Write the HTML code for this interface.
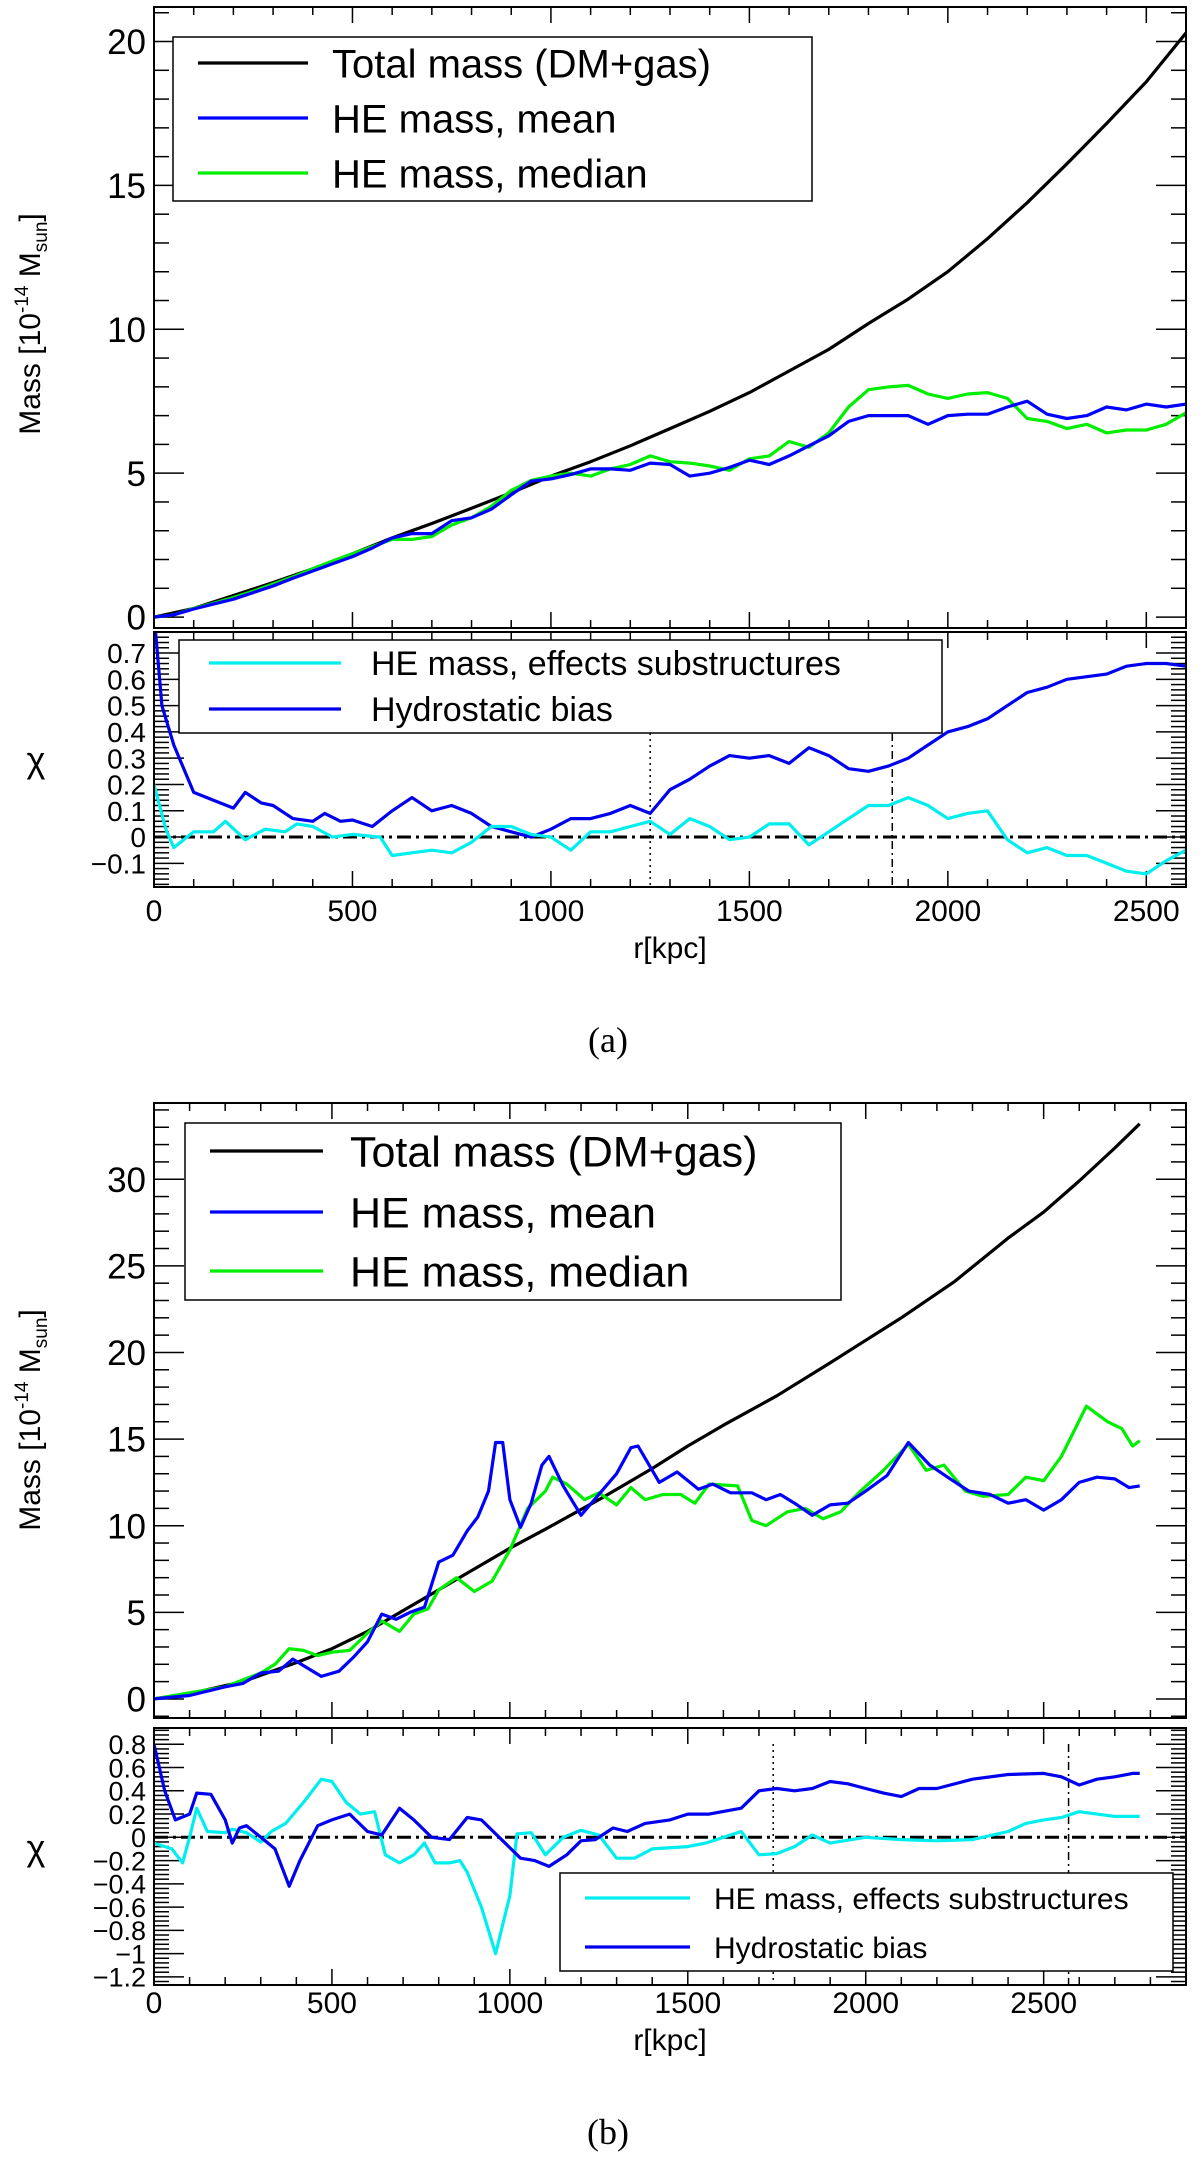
<!DOCTYPE html>
<html><head><meta charset="utf-8">
<style>
html,body{margin:0;padding:0;background:#fff;}
svg{display:block;font-family:"Liberation Sans",Arial,sans-serif;}
</style></head>
<body>
<svg id="fig" width="1200" height="2162" viewBox="0 0 1200 2162" xmlns="http://www.w3.org/2000/svg"></svg>
<script>
// ---- Panel (a) data ----
const aTotR = [0,100,200,300,400,500,600,700,800,900,1000,1100,1200,1300,1400,1500,1600,1700,1800,1900,2000,2100,2200,2300,2400,2500,2600];
const aTotM = [0,0.3,0.75,1.2,1.68,2.2,2.75,3.25,3.78,4.32,4.9,5.4,5.95,6.55,7.15,7.8,8.55,9.3,10.2,11.05,12.0,13.15,14.4,15.75,17.15,18.6,20.3];
const aMeanR = [0,50,100,150,200,250,300,350,400,450,500,550,600,650,700,750,800,850,900,950,1000,1050,1100,1150,1200,1250,1300,1350,1400,1450,1500,1550,1600,1650,1700,1750,1800,1850,1900,1950,2000,2050,2100,2150,2200,2250,2300,2350,2400,2450,2500,2550,2600];
const aMeanM = [0,0.08,0.28,0.45,0.62,0.85,1.08,1.35,1.6,1.85,2.1,2.4,2.75,2.9,2.9,3.35,3.45,3.75,4.25,4.72,4.8,4.95,5.15,5.15,5.1,5.35,5.3,4.9,5.0,5.2,5.45,5.3,5.6,5.95,6.3,6.8,7.0,7.0,7.0,6.7,7.0,7.05,7.05,7.3,7.5,7.05,6.9,7.0,7.3,7.2,7.4,7.3,7.4];
const aMedR = aMeanR;
const aMedM = [0,0.08,0.3,0.48,0.68,0.9,1.15,1.4,1.68,1.95,2.2,2.45,2.7,2.7,2.8,3.2,3.45,3.85,4.4,4.75,4.9,5.0,4.9,5.15,5.3,5.6,5.4,5.35,5.25,5.1,5.5,5.6,6.1,5.9,6.4,7.3,7.9,8.0,8.05,7.75,7.6,7.75,7.8,7.6,6.9,6.8,6.55,6.7,6.4,6.5,6.5,6.7,7.1];
const aBiasR = [0,20,50,100,150,200,230,270,300,350,400,430,470,500,550,600,650,700,750,800,850,900,950,1000,1050,1100,1150,1200,1250,1300,1350,1400,1450,1500,1550,1600,1650,1700,1750,1800,1850,1900,1950,2000,2050,2100,2150,2200,2250,2300,2350,2400,2450,2500,2550,2600];
const aBiasV = [0.85,0.5,0.35,0.17,0.14,0.11,0.17,0.13,0.12,0.07,0.06,0.09,0.06,0.065,0.04,0.1,0.15,0.1,0.12,0.09,0.04,0.02,0.0,0.03,0.07,0.07,0.09,0.12,0.09,0.18,0.22,0.27,0.31,0.3,0.31,0.28,0.34,0.31,0.26,0.25,0.27,0.3,0.35,0.4,0.42,0.45,0.5,0.55,0.57,0.6,0.61,0.62,0.65,0.66,0.66,0.65];
const aSubR = [0,30,50,100,150,180,230,280,330,360,400,450,500,570,600,650,700,750,800,850,900,950,1000,1050,1100,1150,1200,1250,1300,1350,1400,1450,1500,1550,1600,1650,1700,1750,1800,1850,1900,1950,2000,2050,2100,2150,2200,2250,2300,2350,2400,2450,2500,2550,2600];
const aSubV = [0.2,0.03,-0.04,0.02,0.02,0.06,-0.01,0.03,0.02,0.05,0.04,0.0,0.01,0.0,-0.07,-0.06,-0.05,-0.06,-0.02,0.04,0.04,0.01,0.0,-0.05,0.02,0.02,0.04,0.06,0.01,0.07,0.04,-0.01,0.0,0.05,0.05,-0.03,0.02,0.07,0.12,0.12,0.15,0.12,0.07,0.09,0.1,-0.01,-0.06,-0.04,-0.07,-0.07,-0.1,-0.13,-0.14,-0.09,-0.05];
const aVlines = [1250,1860];
// ---- Panel (b) data ----
const bTotR = [0,100,250,400,500,600,750,900,1000,1100,1250,1400,1500,1600,1750,1900,2000,2100,2250,2400,2500,2600,2700,2770];
const bTotM = [0,0.3,1.0,2.1,2.9,3.9,5.7,7.5,8.7,9.8,11.5,13.3,14.6,15.8,17.5,19.4,20.7,22.0,24.1,26.6,28.1,29.9,31.8,33.2];
const bMeanR = [0,100,200,250,300,350,390,430,470,520,560,600,640,680,720,760,800,840,880,910,940,960,980,1000,1030,1060,1090,1110,1150,1200,1250,1300,1340,1360,1420,1470,1530,1570,1620,1680,1720,1760,1800,1850,1900,1950,2000,2060,2120,2180,2230,2290,2350,2400,2450,2500,2550,2600,2650,2700,2740,2770];
const bMeanM = [0,0.2,0.7,0.9,1.5,1.6,2.3,1.8,1.3,1.6,2.4,3.3,4.9,4.6,5.0,5.3,7.9,8.3,9.7,10.5,12.0,14.8,14.8,11.5,9.9,11.3,13.5,14.0,12.3,10.6,11.8,13.0,14.5,14.6,12.5,13.1,12.1,12.4,11.9,11.9,11.5,11.8,11.3,10.6,11.2,11.3,12.0,12.9,14.8,13.5,12.8,12.0,11.8,11.3,11.5,10.9,11.5,12.5,12.8,12.7,12.2,12.3];
const bMedR = [0,200,300,340,380,420,460,500,550,600,640,690,730,770,800,850,900,950,1000,1050,1100,1120,1160,1210,1250,1300,1340,1380,1430,1480,1520,1560,1640,1680,1720,1780,1830,1880,1930,1980,2050,2120,2170,2220,2280,2330,2400,2450,2500,2550,2620,2680,2720,2750,2770];
const bMedM = [0,0.7,1.5,2.0,2.9,2.8,2.5,2.7,2.8,3.8,4.5,3.9,4.9,5.2,6.3,7.0,6.2,6.8,8.6,11.0,12.0,12.8,12.4,11.5,11.9,11.2,12.2,11.5,11.8,11.8,11.3,12.4,12.3,10.3,10.0,10.8,11.0,10.4,10.8,11.9,13.2,14.7,13.2,13.5,12.0,11.7,11.8,12.8,12.6,14.0,16.9,16.0,15.6,14.6,14.9];
const bBiasR = [0,30,60,100,120,160,200,220,240,260,300,340,380,410,460,500,550,600,640,690,730,780,830,880,920,970,1030,1070,1110,1160,1200,1240,1290,1330,1380,1450,1500,1560,1650,1700,1750,1800,1850,1900,1950,2000,2050,2100,2150,2200,2300,2400,2500,2550,2600,2650,2700,2750,2770];
const bBiasV = [0.8,0.4,0.15,0.2,0.38,0.37,0.15,-0.05,0.08,0.1,0.0,-0.1,-0.42,-0.2,0.1,0.15,0.2,0.05,0.02,0.25,0.15,0.0,-0.02,0.17,0.15,0.0,-0.18,-0.2,-0.25,-0.15,-0.03,-0.02,0.08,0.05,0.12,0.15,0.2,0.2,0.25,0.4,0.42,0.4,0.42,0.48,0.46,0.42,0.38,0.35,0.42,0.42,0.5,0.54,0.55,0.52,0.45,0.5,0.52,0.55,0.55];
const bSubR = [0,50,80,100,120,150,200,220,260,300,330,370,420,470,500,540,580,620,650,690,730,760,790,830,860,880,920,960,1000,1020,1060,1100,1150,1200,1250,1300,1350,1400,1500,1550,1600,1650,1700,1750,1800,1850,1900,2000,2100,2200,2300,2400,2450,2500,2550,2600,2650,2700,2770];
const bSubV = [-0.05,-0.1,-0.22,0.0,0.25,0.05,0.04,0.07,0.04,-0.04,0.05,0.12,0.3,0.5,0.48,0.3,0.2,0.22,-0.15,-0.22,-0.15,-0.05,-0.22,-0.22,-0.2,-0.3,-0.6,-1.0,-0.5,0.03,0.04,-0.15,0.0,0.06,0.02,-0.18,-0.18,-0.1,-0.08,-0.05,0.0,0.05,-0.15,-0.14,-0.08,0.02,-0.05,0.0,-0.02,-0.03,-0.02,0.05,0.12,0.15,0.17,0.22,0.2,0.18,0.18];
const bVlines = [1740,2570];

const NS = "http://www.w3.org/2000/svg";
const svg = document.getElementById('fig');
function mk(tag, attrs, parent){ const e=document.createElementNS(NS,tag); for(const k in attrs) e.setAttribute(k,attrs[k]); (parent||svg).appendChild(e); return e; }

const L=154, R=1186;
function pad(cfg){
  const g = mk('g',{});
  
  
  const xs = v => L + (v - 0)/(cfg.xmax) * (R-L);
  const ys = v => cfg.top + (cfg.ymax - v)/(cfg.ymax - cfg.ymin) * (cfg.bot - cfg.top);
  const clip = mk('clipPath',{id:cfg.name+'-clip'},g);
  mk('rect',{x:L,y:cfg.top,width:R-L,height:cfg.bot-cfg.top},clip);
  const ch = cfg.bot-cfg.top;
  const tg = mk('g',{stroke:'#000','stroke-width':1.5},g);
  for(let v=0; v<=cfg.xmax+1e-6; v+=100){
    const x=xs(v), len = (v%500===0)? 16 : 8;
    mk('line',{x1:x,x2:x,y1:cfg.bot,y2:cfg.bot-len*cfg.tscale},tg);
    mk('line',{x1:x,x2:x,y1:cfg.top,y2:cfg.top+len*cfg.tscale},tg);
  }
  const nMin = Math.round((cfg.ymax - cfg.ymin)/cfg.yminor)+2;
  const start = Math.ceil(cfg.ymin/cfg.yminor)*cfg.yminor;
  for(let i=0;i<nMin;i++){
    const v = start + i*cfg.yminor; if(v>cfg.ymax+1e-9) break;
    const isMaj = Math.abs(v/cfg.ymajor - Math.round(v/cfg.ymajor))<1e-6;
    const len = isMaj?30:15;
    const y=ys(v);
    mk('line',{x1:L,x2:L+len,y1:y,y2:y},tg);
    mk('line',{x1:R,x2:R-len,y1:y,y2:y},tg);
  }
  cfg.ylabels.forEach(v=>{
    const t=mk('text',{x:L-8,y:ys(v)+cfg.yfs*0.36,'text-anchor':'end','font-size':cfg.yfs},g);
    t.textContent = (v<0?'\u2212':'')+cfg.yfmt(Math.abs(v));
    
    
  });
  if(cfg.zero){
    const z=mk('line',{x1:L,x2:R,y1:ys(0),y2:ys(0),stroke:'#000','stroke-width':3,'stroke-dasharray':'14 5 3 5'},g);
    
    
  }
  (cfg.vlines||[]).forEach((v,i)=>{
    const l=mk('line',{x1:xs(v),x2:xs(v),y1:cfg.vtop,y2:cfg.bot,stroke:'#000','stroke-width':1.5,'stroke-dasharray': i===0?'2 4':'8 4 2 4'},g);
    
    
  });
  cfg.series.forEach(s=>{
    const d = s.r.map((r,i)=>(i?'L':'M')+xs(r).toFixed(1)+','+ys(s.v[i]).toFixed(1)).join(' ');
    const p=mk('path',{d:d,fill:'none',stroke:s.color,'stroke-width':3.2,'stroke-linejoin':'round','clip-path':'url(#'+cfg.name+'-clip)'},g);
    
    
  });
  const fr=mk('rect',{x:L,y:cfg.top,width:R-L,height:ch,fill:'none',stroke:'#000','stroke-width':2},g);
  
  
  if(cfg.xlabels){
    for(let v=0; v<=cfg.xmax; v+=500){
      const t=mk('text',{x:xs(v),y:cfg.xly,'text-anchor':'middle','font-size':30},g);
      t.textContent=String(v);
      
      
    }
  }
  if(cfg.legend){
    const lg=cfg.legend;
    const lgG=mk('g',{},g);
    
    
    mk('rect',{x:lg.x,y:lg.y,width:lg.w,height:lg.h,fill:'#fff',stroke:'#000','stroke-width':1.5},lgG);
    lg.items.forEach(it=>{
      const e=mk('g',{},lgG);
      
      
      mk('line',{x1:lg.lx1,x2:lg.lx2,y1:it.y,y2:it.y,stroke:it.color,'stroke-width':3.2},e);
      const t=mk('text',{x:lg.tx,y:it.y+lg.fs*0.36,'font-size':lg.fs},e);
      t.textContent=it.label;
    });
  }
}

function title(x,y,label,fs,name){
  const t=mk('text',{x:x,y:y,'text-anchor':'middle','font-size':fs});
  t.textContent=label;   return t;
}
function massTitle(cy,name){
  const t=mk('text',{transform:'translate(40,'+cy+') rotate(-90)','text-anchor':'middle','font-size':30});
  
  
  t.innerHTML='Mass [10<tspan dy="-12" font-size="19">-14</tspan><tspan dy="12"> M</tspan><tspan dy="7" font-size="19">sun</tspan><tspan dy="-7">]</tspan>';
}

pad({name:'mass-panel-a',top:7,bot:628,xmax:2600,ymin:-0.38,ymax:21.2,ymajor:5,yminor:1,tscale:1,
  ylabels:[0,5,10,15,20],yfs:35,yfmt:v=>String(v),
  series:[{name:'total-mass-a',r:aTotR,v:aTotM,color:'#000'},{name:'he-median-a',r:aMedR,v:aMedM,color:'#00ee00'},{name:'he-mean-a',r:aMeanR,v:aMeanM,color:'#0000ff'}],
  legend:{x:173,y:37,w:639,h:164,lx1:198,lx2:308,tx:332,fs:40,items:[{y:63,color:'#000',label:'Total mass (DM+gas)'},{y:118,color:'#0000ff',label:'HE mass, mean'},{y:173,color:'#00ee00',label:'HE mass, median'}]}
});
pad({name:'chi-panel-a',top:632,bot:887,xmax:2600,ymin:-0.19,ymax:0.78,ymajor:0.1,yminor:0.02,tscale:1,
  ylabels:[-0.1,0,0.1,0.2,0.3,0.4,0.5,0.6,0.7],yfs:28,yfmt:v=>v===0?'0':v.toFixed(1),zero:true,vlines:aVlines,vtop:733,
  series:[{name:'hydrostatic-bias-a',r:aBiasR,v:aBiasV,color:'#0000ee'},{name:'substructure-effect-a',r:aSubR,v:aSubV,color:'#00eeee'}],
  xlabels:true,xly:921,
  legend:{x:179,y:640,w:763,h:93,lx1:209,lx2:341,tx:371,fs:34,items:[{y:663,color:'#00eeee',label:'HE mass, effects substructures'},{y:709,color:'#0000ee',label:'Hydrostatic bias'}]}
});
massTitle(324,'y-axis-title-a');
title(36,772,'\u03C7',36,'chi-axis-title-a');
title(670,958,'r[kpc]',30,'x-axis-title-a');
const la=title(608,1052,'(a)',36,'panel-label-a'); la.setAttribute('font-family','"Liberation Serif",serif');

pad({name:'mass-panel-b',top:1103,bot:1718,xmax:2900,ymin:-1.1,ymax:34.4,ymajor:5,yminor:1,tscale:1,
  ylabels:[0,5,10,15,20,25,30],yfs:35,yfmt:v=>String(v),
  series:[{name:'total-mass-b',r:bTotR,v:bTotM,color:'#000'},{name:'he-median-b',r:bMedR,v:bMedM,color:'#00ee00'},{name:'he-mean-b',r:bMeanR,v:bMeanM,color:'#0000ff'}],
  legend:{x:185,y:1123,w:656,h:177,lx1:210,lx2:323,tx:350,fs:43,items:[{y:1151,color:'#000',label:'Total mass (DM+gas)'},{y:1212,color:'#0000ff',label:'HE mass, mean'},{y:1271,color:'#00ee00',label:'HE mass, median'}]}
});
pad({name:'chi-panel-b',top:1728,bot:1985,xmax:2900,ymin:-1.27,ymax:0.94,ymajor:0.2,yminor:0.04,tscale:1,
  ylabels:[-1.2,-1,-0.8,-0.6,-0.4,-0.2,0,0.2,0.4,0.6,0.8],yfs:27,yfmt:v=>(v===0||v===1)?String(v):v.toFixed(1),zero:true,vlines:bVlines,vtop:1744,
  series:[{name:'substructure-effect-b',r:bSubR,v:bSubV,color:'#00eeee'},{name:'hydrostatic-bias-b',r:bBiasR,v:bBiasV,color:'#0000ee'}],
  xlabels:true,xly:2013,
  legend:{x:560,y:1873,w:613,h:98,lx1:585,lx2:690,tx:714,fs:30,items:[{y:1898,color:'#00eeee',label:'HE mass, effects substructures'},{y:1947,color:'#0000ee',label:'Hydrostatic bias'}]}
});
massTitle(1420,'y-axis-title-b');
title(36,1860,'\u03C7',36,'chi-axis-title-b');
title(670,2050,'r[kpc]',30,'x-axis-title-b');
const lb=title(608,2144,'(b)',36,'panel-label-b'); lb.setAttribute('font-family','"Liberation Serif",serif');
</script>
</body></html>
